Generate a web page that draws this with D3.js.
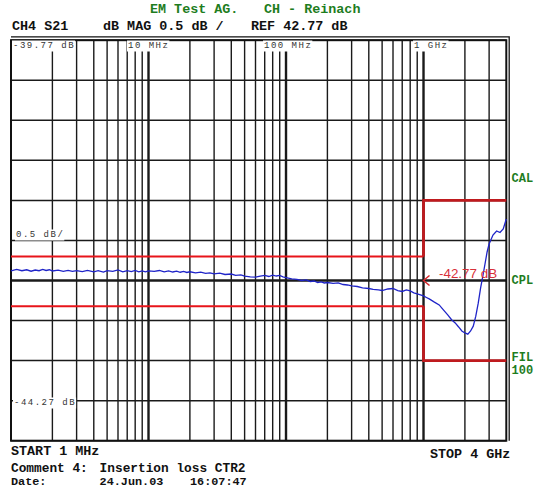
<!DOCTYPE html>
<html lang="en">

<head>
    <meta charset="UTF-8">
    <title>CH4 S21 Insertion loss</title>
    <style>
        body {
            margin: 0;
            padding: 0;
            background: #fff;
        }

        svg {
            display: block;
            background: #fff;
        }

        .mono {
            font-family: "Liberation Mono", "DejaVu Sans Mono", monospace;
            font-weight: bold;
        }
    </style>
</head>

<body>
    <script src="https://d3js.org/d3.v7.min.js"></script>
    <script>
        const width = 540
        const height = 489

        // trace: frequency (MHz) and S21 (dB)
        const freqMHz = [
            1, 1.1, 1.2, 1.3, 1.4, 1.5, 1.6, 1.7, 1.8, 1.9, 2, 2.2, 2.4, 2.6, 2.8, 3, 3.3, 3.6, 4, 4.3, 4.7, 5, 5.5, 6, 6.5, 7, 7.5, 8, 8.5, 9, 9.5,
            10, 11, 12, 13, 14, 15, 16, 17, 18, 19, 20, 22, 24, 26, 28, 30, 33, 36, 40, 43, 47, 50, 55, 60, 65, 70, 75, 80, 85, 90, 95,
            100, 110, 120, 130, 140, 150, 160, 170, 180, 190, 200, 220, 240, 260, 280, 300, 330, 360, 400, 430, 470, 500, 550, 600, 650, 700, 750, 800, 850, 900, 950, 1000, 1050,
            1100, 1200, 1300, 1400, 1500, 1600, 1700, 1800, 1900, 2000, 2100, 2200, 2300, 2400, 2500, 2600, 2700, 2800, 2900, 3000, 3200, 3400, 3600, 3800, 4000
        ]
        const s21dB = [
            -42.651, -42.632, -42.648, -42.636, -42.654, -42.639, -42.648, -42.631, -42.645, -42.636, -42.651, -42.641, -42.656, -42.644, -42.657, -42.646, -42.659, -42.645, -42.661, -42.648, -42.664, -42.646, -42.657, -42.638, -42.661, -42.648, -42.659, -42.645, -42.661, -42.650, -42.662,
            -42.651, -42.657, -42.645, -42.661, -42.651, -42.664, -42.654, -42.667, -42.657, -42.670, -42.661, -42.674, -42.666, -42.682, -42.674, -42.686, -42.679, -42.695, -42.689, -42.707, -42.701, -42.716, -42.724, -42.729, -42.716, -42.707, -42.720, -42.704, -42.714, -42.707, -42.724,
            -42.733, -42.751, -42.757, -42.770, -42.763, -42.782, -42.776, -42.795, -42.788, -42.801, -42.795, -42.807, -42.800, -42.820, -42.826, -42.838, -42.845, -42.863, -42.870, -42.882, -42.888, -42.895, -42.876, -42.870, -42.895, -42.907, -42.888, -42.900, -42.925, -42.938, -42.950, -42.963, -42.982,
            -43.000, -43.040, -43.075, -43.140, -43.200, -43.260, -43.300, -43.350, -43.400, -43.425, -43.440, -43.400, -43.340, -43.215, -43.053, -42.866, -42.714, -42.564, -42.414, -42.314, -42.202, -42.152, -42.171, -42.127, -42.002
        ]

        // limit lines
        const limitFreq = [1, 1000, 1000, 4000]
        const limitUpper = [-42.47, -42.47, -41.77, -41.77]
        const limitLower = [-43.09, -43.09, -43.77, -43.77]

        // scale
        const refLevel = -42.77
        const topLevel = -39.77
        const bottomLevel = -44.77
        const dbPerDiv = 0.5
        const decades = [1, 10, 100, 1000]
        const multipliers = [1, 2, 3, 4, 5, 6, 7, 8, 9]

        const x = d3.scaleLog()
            .domain([1, 4000])
            .range([11, 506.3])

        const y = d3.scaleLinear()
            .domain([bottomLevel, topLevel])
            .range([440.7, 40.2])

        const svg = d3.select('body')
            .append('svg')
            .attr('width', width)
            .attr('height', height)

        // grid
        const gridFreqs = []
        decades.forEach(d => multipliers.forEach(m => {
            if (d * m > 1 && d * m < 4000) gridFreqs.push(d * m)
        }))
        const gridLevels = d3.range(0, 11).map(k => topLevel - k * dbPerDiv)

        const grid = svg.append('g')
        grid.selectAll('line.v')
            .data(gridFreqs)
            .join('line')
            .attr('x1', d => x(d))
            .attr('x2', d => x(d))
            .attr('y1', y(topLevel))
            .attr('y2', y(bottomLevel))
            .attr('stroke', '#1a1a1a')
            .attr('stroke-width', d => (d === 10 || d === 100 || d === 1000) ? 2.4 : 1.4)

        grid.selectAll('line.h')
            .data(gridLevels)
            .join('line')
            .attr('x1', x(1))
            .attr('x2', x(4000))
            .attr('y1', d => y(d))
            .attr('y2', d => y(d))
            .attr('stroke', '#1a1a1a')
            .attr('stroke-width', d => Math.abs(d - refLevel) < 1e-6 ? 2.6 : 1.5)

        // frame
        svg.append('rect')
            .attr('x', x(1))
            .attr('y', y(topLevel))
            .attr('width', x(4000) - x(1))
            .attr('height', y(bottomLevel) - y(topLevel))
            .attr('fill', 'none')
            .attr('stroke', '#111')
            .attr('stroke-width', 2)
        svg.append('path')
            .attr('d', `M${x(1)},36.8 H509.2 V${y(bottomLevel)}`)
            .attr('fill', 'none')
            .attr('stroke', '#111')
            .attr('stroke-width', 1.3)

        // limit lines
        const limitLine = d3.line()
            .x(d => x(d[0]))
            .y(d => y(d[1]))
        const limits = [limitUpper, limitLower]
        limits.forEach(lim => {
            const pts = limitFreq.map((f, i) => [f, lim[i]])
            svg.append('path')
                .attr('d', limitLine(pts.slice(0, 2)))
                .attr('fill', 'none')
                .attr('stroke', '#e8141a')
                .attr('stroke-width', 2)
            svg.append('path')
                .attr('d', limitLine(pts.slice(1)))
                .attr('fill', 'none')
                .attr('stroke', '#bf1a1e')
                .attr('stroke-width', 2.8)
        })

        // trace
        svg.append('path')
            .datum(freqMHz.map((f, i) => [f, s21dB[i]]))
            .attr('d', d3.line().x(d => x(d[0])).y(d => y(d[1])))
            .attr('fill', 'none')
            .attr('stroke', '#1f24c8')
            .attr('stroke-width', 1.3)

        // marker
        const mx = x(1000)
        const my = y(refLevel)
        svg.append('path')
            .attr('d', `M${mx + 6},${my - 5} L${mx},${my} L${mx + 6},${my + 5}`)
            .attr('fill', 'none')
            .attr('stroke', '#d8262b')
            .attr('stroke-width', 1.5)
        svg.append('text')
            .attr('x', mx + 15.5)
            .attr('y', my - 3)
            .attr('fill', '#d8303a')
            .style('font-family', '"Liberation Sans", Arial, sans-serif')
            .style('font-size', '13.4px')
            .text('-42.77 dB')

        // small labels inside the grid, on white boxes
        function gridLabel(tx, ty, txt) {
            const g = svg.append('g')
            const t = g.append('text')
                .attr('x', tx)
                .attr('y', ty)
                .attr('fill', '#333')
                .style('font-family', '"Liberation Mono", monospace')
                .style('font-size', '9px')
                .style('letter-spacing', '1.5px')
                .text(txt)
            const b = t.node().getBBox()
            g.insert('rect', 'text')
                .attr('x', b.x - 1)
                .attr('y', ty - 7)
                .attr('width', b.width + 1)
                .attr('height', 11)
                .attr('fill', '#fff')
        }
        gridLabel(13, 47.5, '-39.77 dB')
        gridLabel(128, 47.5, '10 MHz')
        gridLabel(264, 47.5, '100 MHz')
        gridLabel(414, 47.5, '1 GHz')
        gridLabel(16, 236.5, '0.5 dB/')
        gridLabel(14, 404.5, '-44.27 dB')

        // header and footer text
        const green = '#1e7d1e'
        const texts = [
            [150, 13, 'EM Test AG.', green, 13.4],
            [264, 13, 'CH - Reinach', green, 13.4],
            [12, 30, 'CH4 S21', '#111', 13.4],
            [103, 30, 'dB MAG 0.5 dB /', '#111', 13.4],
            [251, 30, 'REF 42.77 dB', '#111', 13.4],
            [11, 455, 'START 1 MHz', '#111', 13.4],
            [430, 457.5, 'STOP 4 GHz', '#111', 13.4],
            [11, 471.8, 'Comment 4:', '#111', 12.8],
            [99.6, 471.8, 'Insertion loss CTR2', '#111', 12.8],
            [11, 485.3, 'Date:', '#111', 11.8],
            [99.6, 485.3, '24.Jun.03', '#111', 11.8],
            [190, 485.3, '16:07:47', '#111', 11.8],
            [511.5, 182, 'CAL', green, 12],
            [511.5, 284, 'CPL', green, 12],
            [511.5, 361, 'FIL', green, 12],
            [511.5, 374, '100', green, 12]
        ]
        svg.selectAll('text.lab')
            .data(texts)
            .join('text')
            .attr('class', 'lab mono')
            .attr('x', d => d[0])
            .attr('y', d => d[1])
            .attr('fill', d => d[3])
            .style('font-size', d => d[4] + 'px')
            .text(d => d[2])
    </script>
</body>

</html>
